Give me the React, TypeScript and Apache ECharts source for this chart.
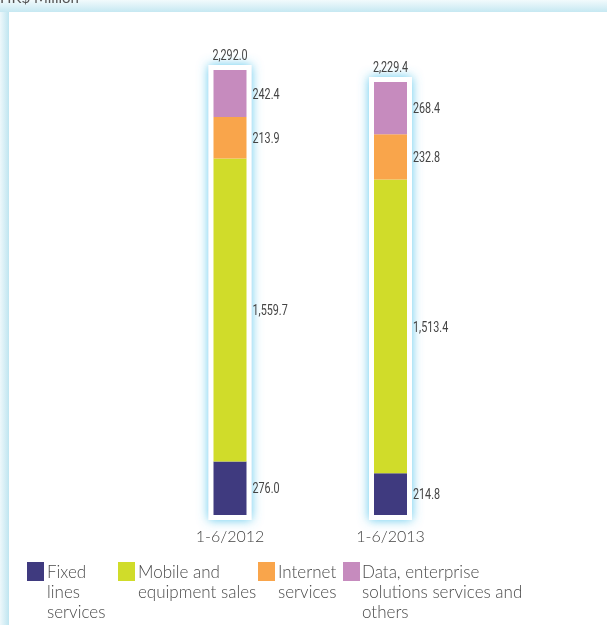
import React, { useEffect, useRef } from "react";
import * as echarts from "echarts";

const categories = ["1-6/2012", "1-6/2013"];
const fixedLines = [276.0, 214.8];
const mobileSales = [1559.7, 1513.4];
const internetServices = [213.9, 232.8];
const dataEnterprise = [242.4, 268.4];
const totals = [2292.0, 2229.4];
const seriesNames = [
  "Fixed lines services",
  "Mobile and equipment sales",
  "Internet services",
  "Data, enterprise solutions services and others",
];
const legendLines = [
  ["Fixed", "lines", "services"],
  ["Mobile and", "equipment sales"],
  ["Internet", "services"],
  ["Data, enterprise", "solutions services and", "others"],
];
const colors = ["#3f3a7f", "#d0dc2a", "#f9a54b", "#c68bbe"];
const unitLabel = "HK$ Million";

const LABEL_FONT = "Roboto, 'Liberation Sans', sans-serif";
const TEXT_FONT = "Lato, 'Open Sans', sans-serif";
const fmt = (v: number) =>
  v.toLocaleString("en-US", { minimumFractionDigits: 1, maximumFractionDigits: 1 });

export default function App() {
  const ref = useRef<HTMLDivElement>(null);
  useEffect(() => {
    if (!ref.current) return;
    const chart = echarts.init(ref.current, undefined, { renderer: "svg" });
    const BW = 33;
    const PAD = 5;
    const SX = 0.72;
    const legendSquareX = [27, 118, 258, 343];
    const legendTextX = [47, 138, 278, 362];
    const values = [fixedLines, mobileSales, internetServices, dataEnterprise];

    const graphics: any[] = [
      { type: "rect", z: -10, shape: { x: 0, y: 0, width: 607, height: 625 }, style: { fill: "#ffffff" } },
      {
        type: "rect",
        z: -9,
        shape: { x: 0, y: 0, width: 9, height: 625 },
        style: {
          fill: new echarts.graphic.LinearGradient(0, 0, 1, 0, [
            { offset: 0, color: "#eef8fb" },
            { offset: 1, color: "#bfe5f0" },
          ]),
        },
      },
      {
        type: "rect",
        z: -9,
        shape: { x: 0, y: 0, width: 607, height: 12 },
        style: {
          fill: new echarts.graphic.LinearGradient(0, 0, 0, 1, [
            { offset: 0, color: "#f2fafc" },
            { offset: 1, color: "#c6e8f2" },
          ]),
        },
      },
      {
        type: "text",
        z: -8,
        x: 0,
        y: -3,
        style: {
          text: unitLabel,
          fill: "#555",
          fontSize: 15,
          fontFamily: TEXT_FONT,
          verticalAlign: "middle",
        },
      },
    ];
    legendLines.forEach((lines, i) => {
      graphics.push({
        type: "rect",
        shape: { x: legendSquareX[i], y: 562, width: 17, height: 19 },
        style: { fill: colors[i] },
      });
      graphics.push({
        type: "text",
        x: legendTextX[i],
        y: 561,
        style: {
          text: lines.join("\n"),
          fill: "#4a4a4a",
          fontSize: 17,
          fontWeight: 300,
          lineHeight: 20,
          fontFamily: TEXT_FONT,
          verticalAlign: "top",
        },
      });
    });

    const barSeries = values.map((vals, i) => ({
      name: seriesNames[i],
      type: "bar",
      stack: "total",
      barWidth: BW,
      z: 3,
      data: vals,
      itemStyle: { color: colors[i] },
    }));

    // segment label rows: [categoryIndex, lower, upper, value]
    const labelRows: number[][] = [];
    categories.forEach((_, c) => {
      let base = 0;
      values.forEach((vals) => {
        labelRows.push([c, base, base + vals[c], vals[c]]);
        base += vals[c];
      });
    });

    chart.setOption({
      animation: false,
      graphic: graphics,
      grid: { left: 149.75, width: 321, top: 49, bottom: 110 },
      xAxis: {
        type: "category",
        data: categories,
        axisLine: { show: false },
        axisTick: { show: false },
        axisLabel: {
          color: "#444",
          fontSize: 16,
          fontWeight: 300,
          margin: 12,
          fontFamily: TEXT_FONT,
        },
      },
      yAxis: {
        type: "value",
        min: 0,
        max: 2400,
        show: false,
        splitLine: { show: false },
      },
      series: [
        {
          type: "custom",
          z: 1,
          data: totals.map((t, i) => [i, t]),
          encode: { x: 0, y: 1 },
          renderItem: (params: any, api: any) => {
            const idx = api.value(0);
            const total = api.value(1);
            const top = api.coord([idx, total]);
            const bottom = api.coord([idx, 0]);
            return {
              type: "group",
              children: [
                {
                  type: "rect",
                  shape: {
                    x: top[0] - BW / 2 - PAD,
                    y: top[1] - PAD,
                    width: BW + 2 * PAD,
                    height: bottom[1] - top[1] + 2 * PAD,
                  },
                  style: {
                    fill: "#ffffff",
                    shadowBlur: 11,
                    shadowColor: "rgba(80,195,235,0.9)",
                  },
                },
                {
                  type: "text",
                  x: top[0],
                  y: top[1] - 15,
                  scaleX: SX,
                  style: {
                    text: fmt(total),
                    fill: "#444",
                    fontSize: 15,
                    fontFamily: LABEL_FONT,
                    align: "center",
                    verticalAlign: "middle",
                  },
                },
              ],
            };
          },
        },
        ...barSeries,
        {
          type: "custom",
          z: 4,
          data: labelRows,
          encode: { x: 0, y: 2 },
          renderItem: (params: any, api: any) => {
            const idx = api.value(0);
            const lo = api.value(1);
            const hi = api.value(2);
            const v = api.value(3);
            const p = api.coord([idx, (lo + hi) / 2]);
            return {
              type: "text",
              x: p[0] + BW / 2 + 6,
              y: p[1],
              scaleX: SX,
              style: {
                text: fmt(v),
                fill: "#444",
                fontSize: 15,
                fontFamily: LABEL_FONT,
                align: "left",
                verticalAlign: "middle",
              },
            };
          },
        },
      ],
    });
    return () => chart.dispose();
  }, []);
  return (
    <div
      ref={ref}
      style={{ position: "fixed", left: 0, top: 0, width: 607, height: 625 }}
    />
  );
}
